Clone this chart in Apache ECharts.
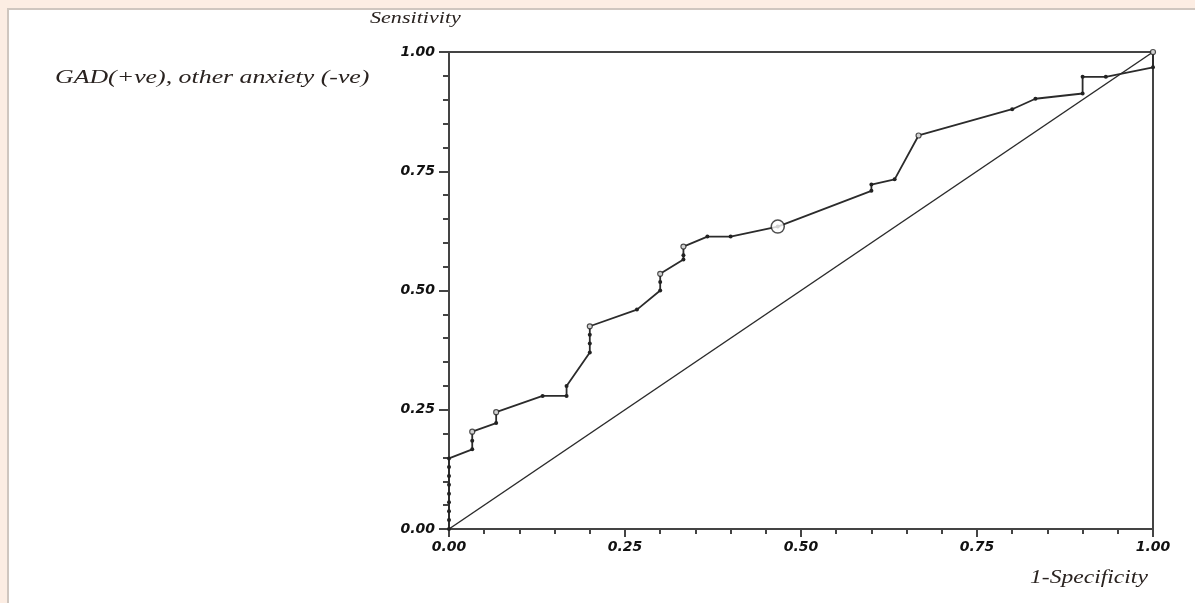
<!DOCTYPE html>
<html>
<head>
<meta charset="utf-8">
<script src="https://cdn.jsdelivr.net/npm/echarts@6/dist/echarts.min.js"></script>
<style>
  html, body { margin: 0; padding: 0; }
  #page { position: relative; width: 1195px; height: 603px; background: #fcede3; overflow: hidden; }
  #sheet { position: absolute; left: 7px; top: 8px; right: -5px; bottom: -5px; background: #fff;
           border-left: 2px solid #cfc6bf; border-top: 2px solid #cfc6bf; }
  #rocChart { position: absolute; left: 0; top: 0; width: 1195px; height: 603px; }
</style>
</head>
<body>
<div id="page">
  <div id="sheet"></div>
  <div id="rocChart"></div>
</div>
<script>
  // 1-specificity / sensitivity pairs
  var falsePosRate = [0, 0, 0, 0, 0, 0, 0, 0, 0,
    0.033, 0.033, 0.033, 0.067, 0.067, 0.133, 0.167, 0.167,
    0.2, 0.2, 0.2, 0.2, 0.267, 0.3, 0.3, 0.3, 0.333, 0.333, 0.333,
    0.367, 0.4, 0.467, 0.6, 0.6, 0.633, 0.667, 0.8, 0.833, 0.9, 0.9, 0.933, 1, 1];
  var sensitivity = [0, 0.019, 0.037, 0.056, 0.074, 0.093, 0.111, 0.13, 0.148,
    0.167, 0.185, 0.204, 0.222, 0.245, 0.279, 0.279, 0.3,
    0.37, 0.389, 0.407, 0.425, 0.46, 0.5, 0.518, 0.535, 0.565, 0.574, 0.592,
    0.613, 0.613, 0.634, 0.709, 0.722, 0.733, 0.825, 0.88, 0.902, 0.913, 0.948, 0.948, 0.968, 1];

  // points drawn with a hollow marker
  var openX = [0.033, 0.067, 0.2, 0.3, 0.333, 0.667, 1];
  var openY = [0.204, 0.245, 0.425, 0.535, 0.592, 0.825, 1];

  // chosen cut point (big hollow circle)
  var cutX = [0.467];
  var cutY = [0.634];

  var refX = [0, 1];
  var refY = [0, 1];

  var tickLabels = ['0.00', '0.25', '0.50', '0.75', '1.00'];

  function pairs(xs, ys) {
    var out = [];
    for (var i = 0; i < xs.length; i++) {
      out.push([xs[i], ys[i]]);
    }
    return out;
  }

  function fmt(v) {
    var idx = Math.round(v / 0.25);
    if (Math.abs(v - idx * 0.25) > 1e-6) return '';
    return tickLabels[idx] || '';
  }

  // stretched italic serif caption, like the original printout
  function caption(str, x, y, size, sx) {
    return {
      type: 'text', x: x, y: y, scaleX: sx, z: 10,
      style: {
        text: str, fill: '#2a2320',
        font: 'italic ' + size + 'px "Liberation Serif"',
        textVerticalAlign: 'middle'
      }
    };
  }

  var lineCol = '#2b2b2b';
  var tickFont = { color: '#111', fontFamily: 'DejaVu Sans', fontWeight: 'bold', fontStyle: 'italic', fontSize: 14 };

  var chart = echarts.init(document.getElementById('rocChart'));

  var option = {
    animation: false,
    backgroundColor: 'transparent',
    graphic: [
      caption('Sensitivity', 370, 19, 17, 1.3),
      caption('GAD(+ve), other anxiety (-ve)', 55, 78, 19, 1.36),
      caption('1-Specificity', 1030, 578, 18, 1.31)
    ],
    grid: {
      left: 449, top: 52, right: 42, bottom: 74,
      show: true, borderColor: '#444', borderWidth: 2, backgroundColor: 'transparent'
    },
    xAxis: {
      type: 'value', min: 0, max: 1, interval: 0.25,
      axisLine: { show: true, lineStyle: { color: '#444', width: 2 } },
      axisTick: { show: true, length: 8, lineStyle: { color: '#444', width: 2 } },
      minorTick: { show: true, splitNumber: 5, length: 5, lineStyle: { color: '#444', width: 2 } },
      splitLine: { show: false },
      axisLabel: Object.assign({ margin: 11, formatter: fmt }, tickFont)
    },
    yAxis: {
      type: 'value', min: 0, max: 1, interval: 0.25,
      axisLine: { show: true, lineStyle: { color: '#444', width: 2 } },
      axisTick: { show: true, length: 10, lineStyle: { color: '#444', width: 2 } },
      minorTick: { show: true, splitNumber: 5, length: 6, lineStyle: { color: '#444', width: 2 } },
      splitLine: { show: false },
      axisLabel: Object.assign({ margin: 14, formatter: fmt }, tickFont)
    },
    series: [
      {
        type: 'line',
        data: pairs(refX, refY),
        showSymbol: false,
        lineStyle: { color: lineCol, width: 1.5 },
        z: 2
      },
      {
        type: 'line',
        data: pairs(falsePosRate, sensitivity),
        symbol: 'circle',
        symbolSize: 4,
        itemStyle: { color: '#222' },
        lineStyle: { color: lineCol, width: 1.8 },
        z: 3
      },
      {
        type: 'scatter',
        data: pairs(openX, openY),
        symbol: 'circle',
        symbolSize: 5,
        itemStyle: { color: '#fff', borderColor: '#222', borderWidth: 1.2 },
        z: 4
      },
      {
        type: 'scatter',
        data: pairs(cutX, cutY),
        symbol: 'circle',
        symbolSize: 13,
        itemStyle: { color: '#fff', borderColor: '#222', borderWidth: 1.5 },
        z: 5
      }
    ]
  };

  chart.setOption(option);
</script>
</body>
</html>
